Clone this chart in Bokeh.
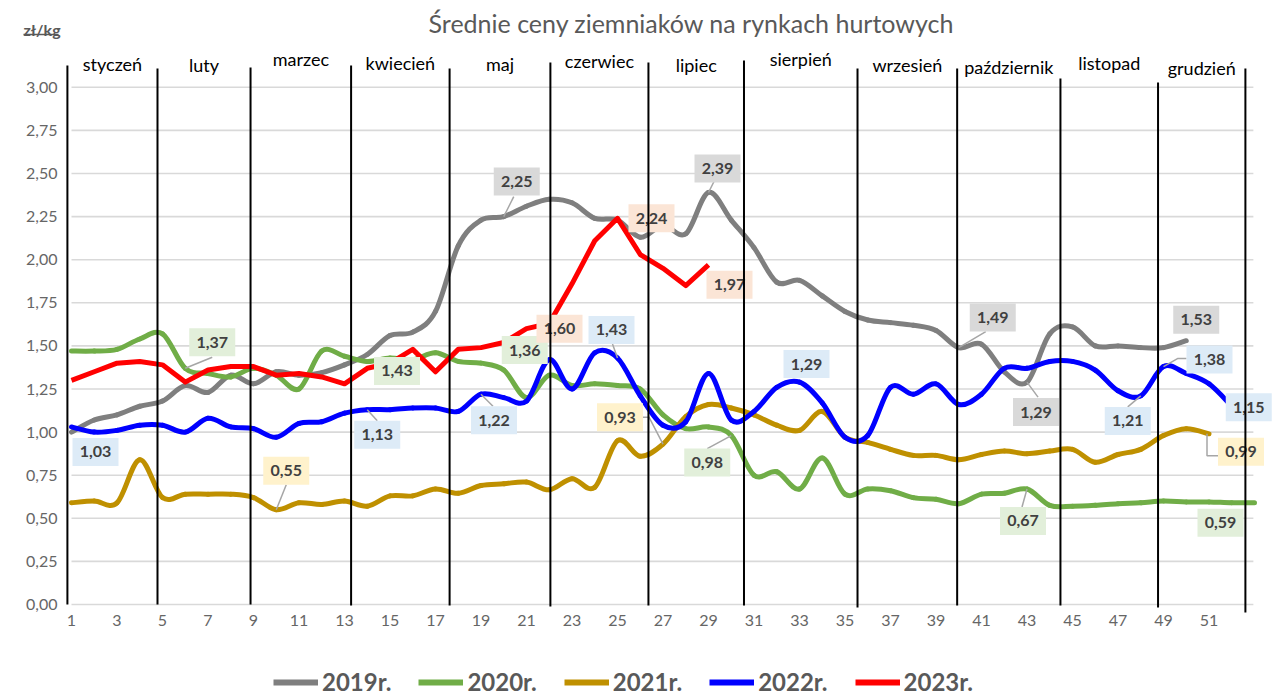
from bokeh.plotting import figure
from bokeh.layouts import column
from bokeh.models import (Range1d, FixedTicker, CustomJSTickFormatter, Legend,
                          LegendItem, ColumnDataSource)
from bokeh.embed import file_html
from bokeh.resources import INLINE
from bokeh.core.properties import value

# ---------------- data ----------------
title_text = "Średnie ceny ziemniaków na rynkach hurtowych"
unit_text = "zł/kg"

months = ["styczeń", "luty", "marzec", "kwiecień", "maj", "czerwiec", "lipiec",
          "sierpień", "wrzesień", "październik", "listopad", "grudzień"]
month_bounds = [0.82, 4.78, 8.87, 13.29, 17.62, 22.05, 26.36, 30.56, 35.55, 39.93, 44.47, 48.76, 52.6]

series_names = ["2019r.", "2020r.", "2021r.", "2022r.", "2023r."]

weeks_2019 = list(range(1, 51))
price_2019 = [1.00, 1.07, 1.10, 1.15, 1.18, 1.27, 1.23, 1.33, 1.28, 1.35,
              1.33, 1.345, 1.39, 1.45, 1.56, 1.58, 1.70, 2.08, 2.23, 2.25,
              2.31, 2.35, 2.33, 2.24, 2.23, 2.13, 2.20, 2.15, 2.39, 2.23,
              2.07, 1.87, 1.88, 1.79, 1.70, 1.65, 1.635, 1.62, 1.59, 1.49,
              1.51, 1.35, 1.29, 1.57, 1.61, 1.50, 1.50, 1.49, 1.49, 1.53]

weeks_2020 = list(range(1, 54))
price_2020 = [1.47, 1.47, 1.48, 1.54, 1.57, 1.37, 1.34, 1.32, 1.37, 1.33,
              1.25, 1.47, 1.44, 1.41, 1.43, 1.42, 1.46, 1.41, 1.40, 1.36,
              1.20, 1.33, 1.27, 1.28, 1.27, 1.25, 1.10, 1.02, 1.03, 0.98,
              0.75, 0.77, 0.67, 0.85, 0.64, 0.67, 0.66, 0.62, 0.61, 0.585,
              0.64, 0.645, 0.67, 0.575, 0.57, 0.575, 0.585, 0.59, 0.60, 0.595,
              0.595, 0.59, 0.59]

weeks_2021 = list(range(1, 52))
price_2021 = [0.59, 0.60, 0.59, 0.84, 0.62, 0.64, 0.64, 0.64, 0.62, 0.55,
              0.59, 0.58, 0.60, 0.57, 0.63, 0.63, 0.67, 0.645, 0.69, 0.70,
              0.71, 0.665, 0.73, 0.68, 0.95, 0.86, 0.93, 1.09, 1.16, 1.14,
              1.10, 1.04, 1.01, 1.12, 0.97, 0.94, 0.90, 0.865, 0.865, 0.84,
              0.87, 0.89, 0.875, 0.89, 0.90, 0.825, 0.87, 0.90, 0.98, 1.02,
              0.99]

weeks_2022 = list(range(1, 53))
price_2022 = [1.03, 1.00, 1.01, 1.04, 1.04, 1.00, 1.08, 1.03, 1.02, 0.97,
              1.05, 1.06, 1.11, 1.13, 1.13, 1.14, 1.14, 1.12, 1.22, 1.20,
              1.18, 1.42, 1.25, 1.46, 1.43, 1.21, 1.04, 1.06, 1.34, 1.07,
              1.12, 1.26, 1.29, 1.17, 0.97, 0.98, 1.26, 1.22, 1.28, 1.16,
              1.22, 1.37, 1.37, 1.41, 1.41, 1.36, 1.24, 1.21, 1.38, 1.34,
              1.28, 1.15]

weeks_2023 = list(range(1, 30))
price_2023 = [1.30, 1.35, 1.40, 1.41, 1.39, 1.29, 1.36, 1.38, 1.38, 1.33,
              1.34, 1.32, 1.28, 1.37, 1.40, 1.48, 1.35, 1.48, 1.49, 1.52,
              1.60, 1.63, 1.86, 2.11, 2.24, 2.03, 1.95, 1.85, 1.97]

x_ticks = [1, 3, 5, 7, 9, 11, 13, 15, 17, 19, 21, 23, 25, 27, 29, 31, 33, 35,
           37, 39, 41, 43, 45, 47, 49, 51]
y_ticks = [0.0, 0.25, 0.5, 0.75, 1.0, 1.25, 1.5, 1.75, 2.0, 2.25, 2.5, 2.75, 3.0]

# ---------------- layout constants (page pixels) ----------------
W = 1272
HH = 40                      # header strip: page 0..40
MAIN_BOTTOM = 650            # main chart: page 40..650
FOOT_H = 47                  # legend strip: page 650..697
FRAME_L = 64                 # frame left (page px)
FRAME_B = 614                # frame bottom (page px)
PXW = 22.75                  # px per week
PXV = 172.4                  # px per zł
X0 = 1 - (71 - FRAME_L) / PXW
X1 = X0 + (W - FRAME_L) / PXW
Y0 = -(FRAME_B - 604) / PXV
Y1 = Y0 + (FRAME_B - HH) / PXV


def vy(page_y):
    return (604 - page_y) / PXV


FONT = "Lato"
GREY_TXT = "#595959"
colors = ["#7f7f7f", "#70ad47", "#bf9000", "#0000ff", "#ff0000"]
label_fills = ["#d9d9d9", "#e2efda", "#fff2cc", "#ddebf7", "#fbe5d6"]

# ---------------- header strip: title and unit ----------------
head = figure(width=W, height=HH, x_range=Range1d(0, W), y_range=Range1d(HH, 0),
              output_backend="svg", toolbar_location=None, title=None,
              x_axis_type=None, y_axis_type=None, min_border=0, frame_align=False)
head.outline_line_color = None
head.xgrid.visible = False
head.ygrid.visible = False
head.text(x=[691], y=[22], text=[title_text], text_align="center", text_baseline="alphabetic",
          text_font=value(FONT), text_font_size="25px", text_color=GREY_TXT)
head.text(x=[23], y=[29], text=[unit_text], text_align="left", text_baseline="alphabetic",
          text_font=value(FONT), text_font_size="16px", text_font_style="bold",
          text_color=GREY_TXT)
head.segment(x0=[23], y0=[34], x1=[58], y1=[34], line_color=GREY_TXT, line_width=1.5)

# ---------------- main chart ----------------
p = figure(width=W, height=MAIN_BOTTOM - HH, x_range=Range1d(X0, X1), y_range=Range1d(Y0, Y1),
           output_backend="svg", toolbar_location=None, title=None,
           min_border_left=FRAME_L, min_border_right=0, min_border_top=0,
           min_border_bottom=MAIN_BOTTOM - FRAME_B, frame_align=False)
p.outline_line_color = None
p.xgrid.visible = False
p.ygrid.visible = False

p.xaxis.ticker = FixedTicker(ticks=x_ticks)
p.yaxis.ticker = FixedTicker(ticks=y_ticks)
p.yaxis.formatter = CustomJSTickFormatter(code="return tick.toFixed(2).replace('.', ',');")
for ax in (p.xaxis, p.yaxis):
    ax.axis_line_color = None
    ax.major_tick_line_color = None
    ax.minor_tick_line_color = None
    ax.major_tick_out = 0
    ax.major_tick_in = 0
    ax.major_label_text_font = FONT
    ax.major_label_text_font_size = "16px"
    ax.major_label_text_color = "#666666"
p.xaxis.major_label_standoff = 0
p.yaxis.major_label_standoff = 7

# gridlines
p.segment(x0=[1] * len(y_ticks), y0=y_ticks, x1=[52.95] * len(y_ticks), y1=y_ticks,
          line_color="#d9d9d9", line_width=1.6, level="underlay")


def smooth_segments(xs, ys):
    n = len(xs)
    seg = {k: [] for k in ("x0", "y0", "x1", "y1", "cx0", "cy0", "cx1", "cy1")}
    for i in range(n - 1):
        a = max(i - 1, 0)
        d = min(i + 2, n - 1)
        seg["x0"].append(xs[i]); seg["y0"].append(ys[i])
        seg["x1"].append(xs[i + 1]); seg["y1"].append(ys[i + 1])
        seg["cx0"].append(xs[i] + (xs[i + 1] - xs[a]) / 6)
        seg["cy0"].append(ys[i] + (ys[i + 1] - ys[a]) / 6)
        seg["cx1"].append(xs[i + 1] - (xs[d] - xs[i]) / 6)
        seg["cy1"].append(ys[i + 1] - (ys[d] - ys[i]) / 6)
    return ColumnDataSource(seg)


all_weeks = [weeks_2019, weeks_2020, weeks_2021, weeks_2022, weeks_2023]
all_prices = [price_2019, price_2020, price_2021, price_2022, price_2023]
for xs, ys, c in zip(all_weeks[:4], all_prices[:4], colors[:4]):
    p.bezier(x0="x0", y0="y0", x1="x1", y1="y1", cx0="cx0", cy0="cy0",
             cx1="cx1", cy1="cy1", source=smooth_segments(xs, ys),
             line_color=c, line_width=5, line_cap="round")
p.line(weeks_2023, price_2023, line_color=colors[4], line_width=5, line_join="round")

# ---------------- data labels ----------------
all_series = {"2019": (price_2019, 0), "2020": (price_2020, 1), "2021": (price_2021, 2),
              "2022": (price_2022, 3), "2023": (price_2023, 4)}
# (series, week, dx px, dy px (down), leader polyline offsets in px)
label_specs = [
    ("2019", 20, 13, -35, [(0, 0), (10, -20)]),
    ("2019", 29, 9, -24, [(0, 0), (6, -12)]),
    ("2019", 40, 34, -30, [(0, 0), (27, -16)]),
    ("2019", 43, 9, 30, [(0, 0), (11, 15)]),
    ("2019", 50, 10, -21, None),
    ("2020", 6, 27, -26, [(0, 0), (27, -11)]),
    ("2020", 15, 7, 13, None),
    ("2020", 20, 21, -20, None),
    ("2020", 30, -24, 27, [(0, 0), (-24, 13)]),
    ("2020", 43, -4, 32, [(0, 0), (-5, 18)]),
    ("2020", 53, -34, 20, None),
    ("2021", 10, 10, -39, [(0, 0), (10, -25)]),
    ("2021", 27, -43, -27, [(0, 0), (-14, -27), (-20, -27)]),
    ("2021", 51, 32, 18, [(-2, 0), (-2, 22), (9, 22)]),
    ("2022", 1, 24, 25, None),
    ("2022", 14, 10, 25, [(0, 0), (10, 11)]),
    ("2022", 19, 13, 26, [(0, 0), (12, 12)]),
    ("2022", 25, -6, -28, [(0, 0), (-5, -14)]),
    ("2022", 33, 7, -18, None),
    ("2022", 48, -13, 25, [(0, 0), (-13, 11)]),
    ("2022", 49, 46, -7, [(0, 0), (14, -8), (23, -8)]),
    ("2022", 52, 17, 1, None),
    ("2023", 21, 33, 0, None),
    ("2023", 25, 34, 0, None),
    ("2023", 29, 21, 20, None),
]

lead_xs, lead_ys = [], []
box_x, box_y, box_fill, box_text = [], [], [], []
for name, wk, dx, dy, lead in label_specs:
    vals, idx = all_series[name]
    v = vals[wk - 1]
    box_x.append(wk + dx / PXW)
    box_y.append(v - dy / PXV)
    box_fill.append(label_fills[idx])
    box_text.append(f"{v:.2f}".replace(".", ","))
    if lead:
        lead_xs.append([wk + ox / PXW for ox, oy in lead])
        lead_ys.append([v - oy / PXV for ox, oy in lead])

p.multi_line(xs=lead_xs, ys=lead_ys, line_color="#a6a6a6", line_width=1.5)
p.rect(x=box_x, y=box_y, width=46, height=28, width_units="screen", height_units="screen",
       fill_color=box_fill, line_color=None)
p.text(x=box_x, y=box_y, text=box_text, text_align="center", text_baseline="middle",
       text_font=value(FONT), text_font_size="16px", text_font_style="bold",
       text_color="#404040")

# ---------------- month separators & names ----------------
sep_top_px = [65, 68, 67, 65, 68, 62, 62, 60, 68, 68, 78, 82, 68]
sep_bot_px = [604, 604, 604, 605, 605, 606, 605, 605, 607, 605, 605, 607, 612]
p.segment(x0=month_bounds, y0=[vy(b) for b in sep_bot_px], x1=month_bounds,
          y1=[vy(t) for t in sep_top_px], line_color="black", line_width=2)

month_mid = [(month_bounds[i] + month_bounds[i + 1]) / 2 for i in range(12)]
month_y_px = [63, 64, 58, 62, 63, 60, 64, 58, 64, 66, 62, 67]
p.text(x=month_mid, y=[vy(m) for m in month_y_px], text=months, text_align="center",
       text_baseline="middle", text_font=value(FONT), text_font_size="18px",
       text_color="black")

# ---------------- legend strip ----------------
# the same series, kept off-view here; only their legend entries are shown
foot = figure(width=W, height=FOOT_H, x_range=Range1d(-3, -2), y_range=Range1d(-3, -2),
              output_backend="svg", toolbar_location=None, title=None,
              x_axis_type=None, y_axis_type=None, min_border=0, frame_align=False)
foot.outline_line_color = None
foot.xgrid.visible = False
foot.ygrid.visible = False
items = []
for n, xs, ys, c in zip(series_names, all_weeks, all_prices, colors):
    r = foot.line(xs, ys, line_color=c, line_width=6)
    items.append(LegendItem(label=n, renderers=[r]))
legend = Legend(items=items, orientation="horizontal", location=(273, 1),
                glyph_width=45, glyph_height=20, label_standoff=4, spacing=27,
                padding=0, margin=0, border_line_color=None, background_fill_alpha=0,
                label_text_font=FONT, label_text_font_size="24px",
                label_text_font_style="bold", label_text_color=GREY_TXT, label_height=28)
foot.add_layout(legend)

page = column(head, p, foot, spacing=0)
open("out.html", "w").write(file_html(page, INLINE))
